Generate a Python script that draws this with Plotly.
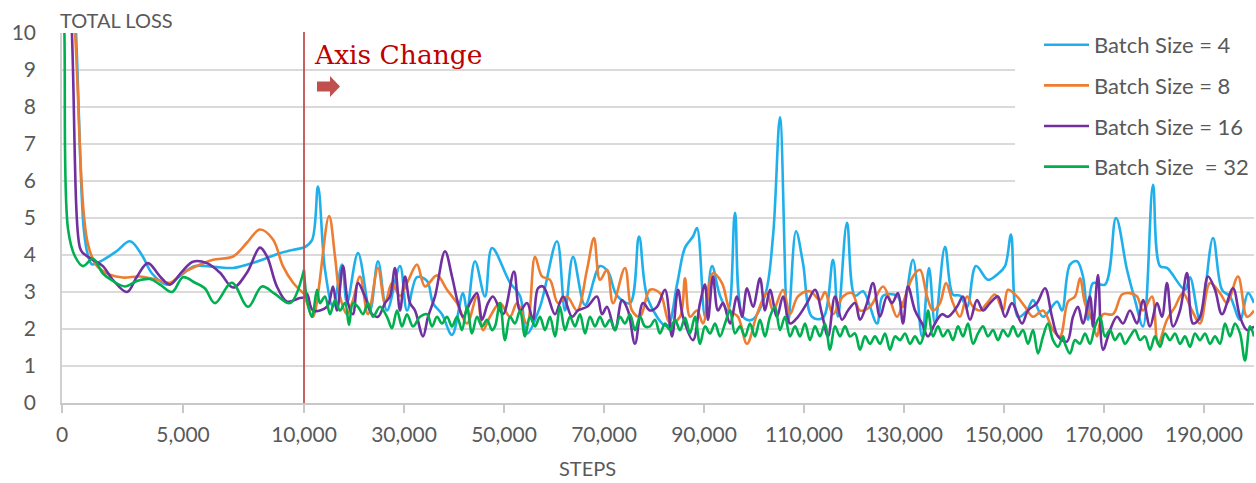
import plotly.graph_objects as go

# ---------------- data ----------------
series_names = ["Batch Size = 4", "Batch Size = 8", "Batch Size = 16", "Batch Size  = 32"]
series_colors = ["#1FB0EC", "#ED7D31", "#7030A0", "#00B050"]

# Segment 1: 0 - 10,000 steps
b4_s1_steps = [0, 580, 900, 1070, 1240, 1650, 2250, 2810, 3300, 3720, 4340, 4900, 5500, 6300, 7070, 7700, 8310, 9000, 9420, 10000]
b4_s1_loss = [18, 10, 4.7, 4.0, 3.75, 3.85, 4.1, 4.37, 4.0, 3.5, 3.2, 3.45, 3.7, 3.68, 3.65, 3.75, 3.88, 4.05, 4.12, 4.2]

b8_s1_steps = [0, 540, 1070, 1450, 1980, 2520, 3220, 3930, 4460, 5000, 5700, 6240, 7070, 7640, 8180, 8720, 9130, 9550, 10000]
b8_s1_loss = [16, 10, 4.3, 3.7, 3.47, 3.39, 3.42, 3.33, 3.25, 3.52, 3.74, 3.87, 3.96, 4.33, 4.69, 4.42, 3.7, 3.25, 2.95]

b16_s1_steps = [0, 410, 740, 870, 1280, 1690, 2100, 2690, 3100, 3550, 4050, 4460, 4960, 5410, 5990, 6530, 7070, 7640, 8180, 8470, 8880, 9300, 9830, 10000]
b16_s1_loss = [17, 10, 4.2, 4.05, 3.87, 3.7, 3.33, 3.0, 3.42, 3.78, 3.42, 3.2, 3.55, 3.82, 3.78, 3.52, 3.12, 3.52, 4.2, 3.96, 3.15, 2.74, 2.84, 2.85]

b32_s1_steps = [0, 100, 250, 540, 870, 1280, 1690, 2100, 2600, 3100, 3640, 4050, 4550, 5000, 5500, 5900, 6320, 7020, 7690, 8260, 8800, 9420, 10000]
b32_s1_loss = [13, 10, 4.7, 3.96, 3.7, 3.9, 3.5, 3.3, 3.15, 3.3, 3.35, 3.2, 3.0, 3.4, 3.25, 3.1, 2.7, 3.25, 2.6, 3.15, 2.95, 2.7, 3.6]

# Segment 2: 10,000 - 200,000 steps
b4_s2_steps = [10000, 11600, 12800, 14200, 15800, 17600, 18600, 20800, 23200, 24800, 26600, 29200, 30600, 32600, 34600, 35800, 37600, 39600,
               41800, 42600, 44200, 46200, 47600, 51200, 53200, 54600, 57200, 60600, 62200, 63800, 66200, 69200, 70800, 72600, 75200, 77000,
               78800, 82600, 84600, 86200, 87800, 88600, 90200, 91600, 93200, 94800, 96200, 97800, 99600, 102200, 103800, 105200, 106800,
               108400, 109800, 111600, 113800, 115800, 116800, 118600, 120200, 121800, 124600, 125800, 128600, 129800, 131800, 133600,
               135000, 136200, 138200, 139800, 141200, 142600, 144400, 146800, 148600, 150200, 151400, 152800, 154600, 155800, 157800,
               160600, 161600, 163200, 164600, 165800, 166800, 167800, 170200, 172400, 174600, 176200, 177800, 179800, 181200, 182600,
               186200, 187200, 189200, 191800, 193600, 195200, 197200, 198800, 200000]
b4_s2_loss = [4.2, 4.4, 5.85, 3.6, 2.6, 3.74, 2.7, 4.05, 2.5, 3.83, 2.5, 3.7, 2.5, 3.4, 3.3, 2.7, 2.4, 1.84,
              2.97, 2.5, 3.83, 2.88, 4.19, 3.25, 2.9, 1.88, 2.6, 4.37, 2.5, 3.95, 2.65, 3.7, 3.55, 2.9, 2.7, 4.5,
              2.8, 2.07, 3.2, 4.2, 4.5, 4.73, 2.33, 3.7, 2.9, 2.5, 5.14, 2.33, 2.25, 2.9, 4.5, 7.72, 2.15,
              4.64, 3.78, 2.33, 2.3, 3.87, 2.33, 4.87, 2.9, 3.02, 2.15, 2.9, 2.9, 2.6, 3.87, 1.8,
              3.65, 2.15, 4.22, 2.93, 2.9, 2.6, 3.7, 3.33, 3.47, 3.7, 4.55, 2.33, 2.5, 2.78, 2.33,
              2.74, 2.5, 3.74, 3.83, 3.42, 2.25, 3.24, 3.2, 5.0, 3.6, 2.78, 2.07, 5.9, 3.7, 3.65,
              3.06, 3.4, 2.25, 4.46, 3.06, 2.88, 2.25, 2.97, 2.7]

b8_s2_steps = [10000, 10600, 11800, 15000, 16200, 17200, 18600, 19800, 21200, 22800, 24800, 26200, 27600, 29200, 30800, 32600, 34200,
               36600, 38600, 40600, 42600, 44600, 45800, 47200, 49200, 51200, 52600, 54600, 56200, 57600, 59200, 60800, 62600, 64600,
               66600, 68000, 69200, 70600, 71800, 74200, 75600, 77200, 79200, 81200, 83200, 85200, 86200, 87200, 88600, 89800, 91800,
               93600, 95200, 96800, 98600, 100600, 102600, 103800, 105800, 107200, 108800, 111200, 113200, 114200, 115800, 117800,
               119600, 121200, 123200, 125800, 127200, 128600, 129800, 131800, 133200, 134600, 135800, 137200, 138400, 139800, 141200,
               142600, 143800, 145200, 146600, 148200, 149800, 150800, 152600, 154200, 155800, 157800, 159800, 161200, 162800, 164200,
               165200, 166200, 167600, 168600, 169800, 171800, 173600, 175200, 176600, 177800, 179600, 180800, 182600, 184200, 185800,
               187600, 189200, 191200, 193200, 194600, 196800, 198600, 200000]
b8_s2_loss = [2.95, 2.7, 2.33, 5.05, 3.96, 2.88, 2.4, 2.78, 3.42, 2.4, 3.65, 2.7, 3.24, 2.9, 3.3, 3.74, 3.15,
              3.45, 3.06, 2.7, 2.15, 2.88, 1.97, 2.33, 2.7, 2.33, 2.7, 2.15, 3.95, 3.42, 3.33, 2.7, 2.88, 2.5,
              3.6, 4.46, 3.33, 3.6, 2.7, 3.65, 2.5, 2.33, 3.06, 2.97, 2.15, 2.33, 3.37, 2.33, 2.5, 2.15, 3.51,
              3.24, 2.5, 2.33, 1.6, 2.4, 2.97, 2.5, 3.06, 2.4, 2.88, 3.02, 2.78, 3.0, 2.4, 2.88,
              2.97, 2.5, 2.6, 3.15, 2.78, 2.33, 2.7, 3.42, 3.6, 2.88, 2.5, 2.7, 3.24, 2.7, 2.33,
              2.88, 2.6, 2.5, 2.7, 2.93, 2.5, 3.06, 2.88, 2.6, 2.33, 2.5, 1.97, 1.8, 2.74, 2.88,
              3.37, 2.7, 2.25, 1.8, 2.4, 2.4, 2.93, 2.97, 2.88, 2.5, 2.88, 1.6, 2.25, 2.6, 2.97,
              2.5, 2.15, 3.24, 2.97, 2.7, 3.42, 2.33, 2.5]

b16_s2_steps = [10000, 10600, 11800, 14600, 15800, 16600, 17800, 18800, 19800, 20800, 22200, 23600, 24800, 26200, 27200, 28200, 29200,
                30200, 31200, 32200, 33800, 34800, 36200, 38200, 39600, 40800, 41800, 43200, 44600, 45600, 46800, 47800, 49800, 52000,
                53200, 54600, 55800, 56800, 57800, 58800, 60200, 61800, 63600, 64800, 66600, 68600, 69600, 70600, 72200, 73600, 74800,
                76200, 77800, 79200, 80600, 82200, 83600, 84800, 85800, 87800, 89200, 90200, 90800, 91800, 92800, 93800, 95200, 96600,
                97600, 98600, 99800, 101200, 102200, 103200, 104600, 105800, 107200, 108800, 110600, 112200, 113600, 114800, 116200,
                117600, 118800, 120200, 121200, 122600, 123800, 125200, 126600, 127600, 128800, 129800, 130800, 132200, 133600, 134800,
                136200, 137600, 138800, 140600, 141800, 143200, 144600, 145800, 147200, 148800, 150200, 151600, 153600, 154800, 156600,
                158200, 159600, 160800, 162600, 163800, 164800, 165800, 167200, 167800, 168800, 169800, 171200, 172600, 173800, 175200,
                176600, 177800, 179200, 180600, 181600, 182600, 183800, 185200, 186600, 187800, 189200, 190800, 192200, 193600, 195800,
                197200, 198600, 200000]
b16_s2_loss = [2.85, 2.95, 2.5, 2.6, 3.15, 2.5, 3.7, 2.7, 2.4, 3.24, 2.88, 2.4, 2.33, 2.7, 2.88, 3.65, 2.5,
               3.42, 2.7, 2.5, 1.8, 2.33, 2.88, 4.1, 3.42, 2.7, 2.33, 2.7, 2.97, 2.25, 2.7, 2.88, 2.4, 3.55,
               2.5, 2.7, 2.25, 3.1, 3.15, 2.88, 2.4, 2.88, 2.33, 2.5, 2.6, 2.88, 2.4, 2.6, 1.97, 2.78, 2.5,
               1.6, 2.7, 2.5, 2.6, 3.06, 1.8, 3.06, 2.33, 1.7, 2.7, 3.2, 2.25, 3.42, 2.5, 2.7, 2.15, 2.88,
               2.33, 3.1, 2.6, 3.37, 2.5, 3.06, 2.33, 2.88, 2.15, 2.33, 2.7, 3.06, 2.4, 1.8, 2.88,
               2.25, 2.5, 2.7, 2.25, 2.7, 3.24, 2.33, 2.88, 2.7, 2.97, 2.15, 3.15, 2.5, 2.15, 1.8,
               2.15, 2.4, 2.33, 2.6, 2.88, 2.25, 2.78, 2.5, 2.7, 2.88, 2.33, 2.7, 2.15, 2.5, 2.7,
               3.1, 2.33, 1.8, 1.66, 2.33, 2.6, 2.15, 2.88, 2.07, 3.46, 1.44, 1.97, 2.33, 2.15, 2.5,
               2.15, 2.78, 2.07, 2.7, 2.33, 3.24, 2.07, 2.5, 3.51, 2.15, 2.33, 3.42, 3.06, 2.4, 3.1,
               2.33, 1.97, 2.07]

b32_s2_steps = [10000, 10600, 11600, 12600, 13200, 14200, 15200, 16200, 17200, 18200, 19000, 19800, 20800, 21800, 22800, 23800, 25200,
                26600, 27600, 28600, 29600, 30600, 31800, 33200, 34600, 35600, 36600, 37600, 38600, 39600, 40600, 41600, 42600, 43600,
                44600, 45600, 46600, 47600, 48200, 49200, 50200, 51200, 52200, 53200, 54200, 55200, 56200, 57200, 58200, 59200, 60200,
                61200, 62200, 63200, 64200, 65200, 66200, 67200, 68200, 69200, 70200, 71200, 72200, 73200, 74200, 75200, 76200, 77200,
                78200, 79200, 80200, 81200, 82200, 83200, 84200, 85200, 86200, 87200, 88200, 89200, 90200, 91200, 92200, 93200, 94200,
                95200, 96200, 97200, 98200, 99200, 100200, 101200, 102200, 103200, 104200, 105200, 106200, 107200, 108200, 109200,
                110200, 111200, 112200, 113200, 114200, 115200, 116200, 117200, 118200, 119200, 120200, 121200, 122200, 123200, 124200,
                125200, 126200, 127200, 128200, 129200, 130200, 131200, 132200, 133200, 134200, 134800, 135800, 136800, 137800, 138800,
                139800, 140800, 141800, 142800, 143800, 144800, 145800, 146800, 147800, 148800, 149800, 150800, 151800, 152800, 153800,
                154800, 155800, 156800, 157800, 158800, 159800, 160800, 161800, 162200, 163200, 164200, 165200, 166200, 167200, 168200,
                169200, 170200, 171200, 172200, 173200, 174200, 175200, 176200, 177200, 178200, 179200, 180200, 181200, 182200, 183200,
                184200, 185200, 186200, 187200, 188200, 189200, 190200, 191200, 192200, 193200, 194200, 195200, 196200, 197200, 198200,
                199200, 200000]
b32_s2_loss = [3.6, 2.78, 2.33, 3.06, 2.7, 2.88, 2.4, 2.78, 2.5, 2.7, 2.11, 2.7, 2.6, 2.4, 2.7, 2.33, 2.6,
               2.33, 2.02, 2.5, 2.07, 2.4, 2.07, 2.33, 2.4, 2.07, 2.33, 2.15, 2.33, 2.07, 2.33, 1.97, 2.6, 1.88,
               2.33, 2.07, 2.25, 1.97, 2.07, 2.7, 1.7, 2.33, 2.15, 2.5, 1.8, 2.33, 2.07, 2.33, 1.97, 2.33, 1.8,
               2.6, 1.97, 2.33, 2.07, 2.4, 1.88, 2.33, 2.07, 2.33, 2.07, 2.25, 1.97, 2.33, 2.15, 2.4, 1.97, 2.33,
               2.07, 2.07, 2.25, 1.88, 2.15, 1.97, 2.25, 1.97, 2.3, 1.88, 2.33, 1.6, 2.07, 1.88, 2.15, 1.8, 2.15,
               2.5, 1.88, 2.07, 1.8, 2.15, 1.8, 2.25, 1.8, 2.33, 2.6, 1.97, 2.33, 1.8, 2.07, 1.8,
               2.15, 1.7, 2.07, 1.8, 2.15, 1.44, 2.07, 1.8, 2.07, 1.8, 1.88, 1.44, 1.8, 1.6, 1.8,
               1.6, 1.88, 1.44, 1.8, 1.7, 1.88, 1.6, 1.8, 1.6, 1.97, 2.5, 1.8, 2.07, 1.8, 1.97,
               1.7, 2.07, 1.8, 2.15, 1.6, 1.88, 2.07, 1.8, 1.97, 1.7, 1.97, 1.8, 2.07, 1.8, 1.97,
               1.6, 1.97, 1.34, 1.8, 2.15, 1.7, 1.52, 1.8, 1.6, 1.34, 1.7, 1.6, 1.88, 1.6, 2.07,
               2.33, 1.8, 1.97, 1.7, 1.88, 1.6, 1.8, 1.97, 1.7, 1.8, 1.44, 1.8, 1.52, 1.88, 1.7,
               1.88, 1.6, 1.8, 1.52, 1.88, 1.7, 1.88, 1.6, 1.8, 1.6, 2.15, 1.8, 2.15, 1.88, 1.15,
               2.07, 1.8]

seg1_ticks = [0, 5000, 10000]
seg2_ticks = [30000, 50000, 70000, 90000, 110000, 130000, 150000, 170000, 190000]
y_ticks = list(range(0, 11))

seg1_data = [(b4_s1_steps, b4_s1_loss), (b8_s1_steps, b8_s1_loss), (b16_s1_steps, b16_s1_loss), (b32_s1_steps, b32_s1_loss)]
seg2_data = [(b4_s2_steps, b4_s2_loss), (b8_s2_steps, b8_s2_loss), (b16_s2_steps, b16_s2_loss), (b32_s2_steps, b32_s2_loss)]

# ---------------- layout geometry ----------------
W, H = 1256, 483
L, R, T, B = 62, 2, 33, 80
PW, PH = W - L - R, H - T - B
split = 242 / PW  # fraction of width used by 0-10,000 segment


def px(x):
    return (x - L) / PW


def py(y):
    return (H - B - y) / PH


TEXT = "#595959"
FONT = "Lato"

fig = go.Figure()
for i, name in enumerate(series_names):
    s, v = seg1_data[i]
    fig.add_trace(go.Scatter(x=s, y=v, mode="lines", name=name, legendgroup=name,
                             line=dict(color=series_colors[i], width=2.6, shape="spline", smoothing=1),
                             xaxis="x", yaxis="y", showlegend=True, hoverinfo="skip"))
for i, name in enumerate(series_names):
    s, v = seg2_data[i]
    fig.add_trace(go.Scatter(x=s, y=v, mode="lines", name=name, legendgroup=name,
                             line=dict(color=series_colors[i], width=2.6, shape="spline", smoothing=1),
                             xaxis="x2", yaxis="y", showlegend=False, hoverinfo="skip"))

axis_common = dict(showgrid=False, zeroline=False, showline=True, linecolor="#C8C8C8", linewidth=2,
                   ticks="outside", ticklen=8, tickcolor="#C8C8C8", tickwidth=1.5, automargin=False,
                   tickfont=dict(family=FONT, size=21, color=TEXT), ticklabelstandoff=4)

fig.update_layout(
    width=W, height=H, autosize=False,
    margin=dict(l=L, r=R, t=T, b=B, autoexpand=False),
    paper_bgcolor="white", plot_bgcolor="white",
    showlegend=True,
    xaxis=dict(domain=[0, split], range=[0, 10000], tickvals=seg1_ticks,
               ticktext=[f"{t:,}" for t in seg1_ticks], anchor="y", **axis_common),
    xaxis2=dict(domain=[split, 1], range=[10000, 200000], tickvals=seg2_ticks,
                ticktext=[f"{t:,}" for t in seg2_ticks], anchor="y", **axis_common),
    yaxis=dict(range=[0, 10], tickvals=y_ticks, showgrid=True, gridcolor="#DADADA", gridwidth=1.6,
               zeroline=False, showline=True, linecolor="#D0D0D0", linewidth=1.5, ticks="",
               ticklabelstandoff=20, automargin=False,
               tickfont=dict(family=FONT, size=21, color=TEXT)),
    legend=dict(x=1.0, y=py(24), xanchor="right", yanchor="top", bgcolor="rgba(0,0,0,0)",
                font=dict(family=FONT, size=22, color=TEXT), tracegroupgap=9, itemwidth=45,
                traceorder="grouped"),
    shapes=[
        # white backdrop behind legend (covers grid lines)
        dict(type="rect", xref="paper", yref="paper", x0=px(1015), x1=1.0, y0=py(22), y1=py(183),
             fillcolor="white", line=dict(width=0), layer="above"),
        # axis-change marker line (at the segment boundary)
        dict(type="line", xref="paper", yref="paper", x0=split, x1=split, y0=0, y1=py(32),
             line=dict(color="#C0504D", width=1.8), layer="above"),
        # small arrow
        dict(type="path", xref="paper", yref="paper",
             path=(f"M {px(317)},{py(81.5)} L {px(330)},{py(81.5)} L {px(330)},{py(76)} L {px(340)},{py(86.5)} "
                   f"L {px(330)},{py(97)} L {px(330)},{py(91.5)} L {px(317)},{py(91.5)} Z"),
             fillcolor="#C0504D", line=dict(width=0), layer="above"),
    ],
    annotations=[
        dict(text="Axis Change", xref="paper", yref="paper", x=px(312), y=py(55), xanchor="left", yanchor="middle",
             showarrow=False, font=dict(family="DejaVu Serif", size=26.5, color="#C00000")),
        dict(text="TOTAL LOSS", xref="paper", yref="paper", x=px(58), y=py(20), xanchor="left", yanchor="middle",
             showarrow=False, font=dict(family=FONT, size=20, color=TEXT)),
        dict(text="STEPS", xref="paper", yref="paper", x=px(587), y=py(468), xanchor="center", yanchor="middle",
             showarrow=False, font=dict(family=FONT, size=20, color=TEXT)),
    ],
)

fig.write_html("out.html", config={"displayModeBar": False},
               post_script="document.body.style.margin='0px';document.body.style.overflow='hidden';")
